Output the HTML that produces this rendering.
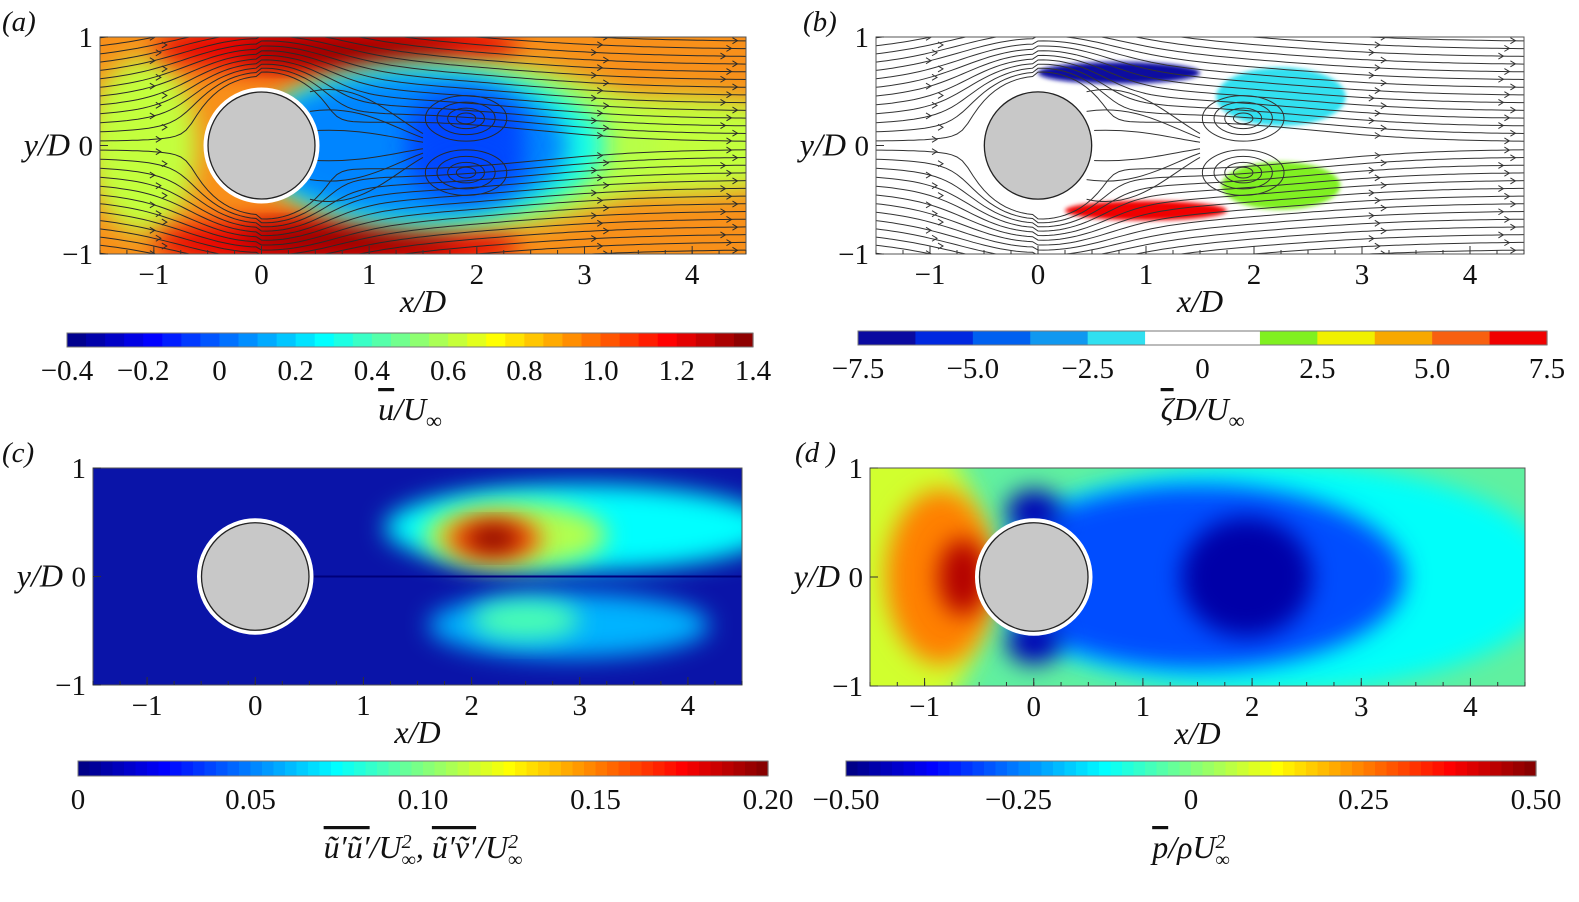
<!DOCTYPE html>
<html><head><meta charset="utf-8"><style>
html,body{margin:0;padding:0;background:#fff;}
svg text{font-family:"Liberation Serif","DejaVu Serif",serif;fill:#111;}
</style></head><body>
<svg id="fig" width="1579" height="897" viewBox="0 0 1579 897" xmlns="http://www.w3.org/2000/svg" font-family="Liberation Serif, DejaVu Serif, serif">
<defs>
<filter id="b14" x="-50%" y="-50%" width="200%" height="200%"><feGaussianBlur stdDeviation="12"/></filter>
<filter id="b3" x="-50%" y="-50%" width="200%" height="200%"><feGaussianBlur stdDeviation="2"/></filter>
</defs>
</svg>
<script>
// ---- data arrays ----
const xTicks=[-1,0,1,2,3,4];
const yTicks=[1,0,-1];
const cbA=[-0.4,-0.2,0,0.2,0.4,0.6,0.8,1.0,1.2,1.4];
const cbALabels=["−0.4","−0.2","0","0.2","0.4","0.6","0.8","1.0","1.2","1.4"];
const cbB=[-7.5,-5,-2.5,0,2.5,5,7.5];
const cbBLabels=["−7.5","−5.0","−2.5","0","2.5","5.0","7.5"];
const cbC=[0,0.05,0.10,0.15,0.20];
const cbCLabels=["0","0.05","0.10","0.15","0.20"];
const cbD=[-0.5,-0.25,0,0.25,0.5];
const cbDLabels=["−0.50","−0.25","0","0.25","0.50"];
// field blobs: [cx, cy, rx, ry, value]
const blobsA=[[-1.1,0,0.5,0.8,0.62],[3.8,0,1.4,0.45,0.62],[0.7,0.9,1.7,0.25,1.22],[0.7,-0.9,1.7,0.25,1.22],[0.8,0.86,1.0,0.12,1.38],[0.8,-0.86,1.0,0.12,1.38],[1.8,0,1.9,0.76,0.6],[1.6,0,1.6,0.7,0.32],[1.4,0,1.45,0.66,0.06],[1.9,0.15,0.55,0.35,-0.05],[1.9,-0.15,0.55,0.35,-0.05]];
const blobsB=[[0.75,0.67,0.75,0.1,-7.5],[2.25,0.45,0.6,0.27,-2.5],[1.0,-0.6,0.75,0.09,6.5],[2.25,-0.37,0.55,0.22,2.0]];
const blobsC=[[3.0,0.45,1.8,0.4,0.075],[2.4,0.38,0.85,0.3,0.11],[2.2,0.35,0.45,0.2,0.16],[2.2,0.35,0.25,0.12,0.2],[2.9,-0.45,1.3,0.3,0.06],[2.5,-0.4,0.5,0.18,0.09]];
const blobsD=[[2.2,0,2.6,1.05,-0.12],[1.5,0,1.9,0.85,-0.3],[1.95,0,0.6,0.55,-0.46],[0,0.6,0.25,0.2,-0.45],[0,-0.6,0.25,0.2,-0.45],[-1.2,0,0.75,1.4,0.08],[-0.85,0,0.5,0.8,0.25],[-0.65,0,0.22,0.35,0.45]];

const NS="http://www.w3.org/2000/svg";
const svg=document.getElementById('fig');
function el(tag,attrs,parent){const e=document.createElementNS(NS,tag);for(const k in attrs)e.setAttribute(k,attrs[k]);(parent||svg).appendChild(e);return e;}
function clamp(v){return Math.max(0,Math.min(1,v));}
function jet(t){t=clamp(t);const r=clamp(1.5-Math.abs(4*t-3)),g=clamp(1.5-Math.abs(4*t-2)),b=clamp(1.5-Math.abs(4*t-1));return `rgb(${Math.round(r*255)},${Math.round(g*255)},${Math.round(b*255)})`;}
const vortColors=['#0a0aa0','#0028e0','#0060f0','#1098f0','#30e0f0','#ffffff','#ffffff','#80f020','#f0f000','#f8a800','#f86010','#f00000'];
function vortCol(v){const i=Math.max(0,Math.min(11,Math.floor((v+7.5)/15*12)));return vortColors[i];}

function panel(o){
  const sx=v=>o.x0+(v+1.5)/6*(o.x1-o.x0);
  const sy=v=>o.yc-v*(o.y1-o.y0)/2;
  const g=el('g',{});
  
  
  const cid='clip'+o.id;
  const cp=el('clipPath',{id:cid},g);
  el('rect',{x:o.x0,y:o.y0,width:o.x1-o.x0,height:o.y1-o.y0},cp);
  const pg=el('g',{'clip-path':`url(#${cid})`},g);
  const bg=el('rect',{x:o.x0,y:o.y0,width:o.x1-o.x0,height:o.y1-o.y0,fill:o.bg},pg);
  
  
  const ppx=(o.x1-o.x0)/6, ppy=(o.y1-o.y0)/2;
  o.blobs.forEach(b=>{
    const e=el('ellipse',{cx:sx(b[0]),cy:sy(b[1]),rx:b[2]*ppx,ry:b[3]*ppy,fill:o.col(b[4]),filter:o.filter||'url(#b14)'},pg);
    
    
  });
  if(o.extra)o.extra(pg,sx,sy);
  if(o.stream)streams(pg,sx,sy,o.stream);
  const R=0.52*ppx;
  const cyl=el('circle',{cx:sx(0),cy:sy(0),r:R,fill:'#c8c8c8',stroke:'#fff','stroke-width':4},g);
  
  
  el('circle',{cx:sx(0),cy:sy(0),r:R-2.5,fill:'none',stroke:'#222','stroke-width':1.3},g);
  const fr=el('rect',{x:o.x0,y:o.y0,width:o.x1-o.x0,height:o.y1-o.y0,fill:'none',stroke:'#555','stroke-width':1},g);
  
  
  for(let t=-1.5;t<=4.5;t+=0.25) el('line',{x1:sx(t),x2:sx(t),y1:o.y1,y2:o.y1-4,stroke:'#333'},g);
  xTicks.forEach(t=>{
    el('line',{x1:sx(t),x2:sx(t),y1:o.y1,y2:o.y1-8,stroke:'#333'},g);
    const tx=el('text',{x:sx(t),y:o.y1+30,'font-size':29,'text-anchor':'middle'},g);
    tx.textContent=t<0?'−'+(-t):String(t);
    
    
  });
  yTicks.forEach(t=>{
    el('line',{x1:o.x0,x2:o.x0+8,y1:sy(t),y2:sy(t),stroke:'#333'},g);
    const tx=el('text',{x:o.x0-7,y:sy(t)+10,'font-size':29,'text-anchor':'end'},g);
    tx.textContent=t<0?'−'+(-t):String(t);
    
    
  });
  const xl=el('text',{x:sx(1.5),y:o.y1+58,'font-size':32,'font-style':'italic','text-anchor':'middle'},g);
  xl.textContent='x/D';
  
  
  const yl=el('text',{x:o.x0-30,y:sy(0)+10,'font-size':32,'font-style':'italic','text-anchor':'end'},g);
  yl.textContent='y/D';
  
  
  const pl=el('text',{x:o.lx,y:o.y0-6,'font-size':29,'font-style':'italic'},g);
  pl.textContent=o.label;
  
  
}

function streams(g,sx,sy,color){
  const a=0.62;
  const psiF=(x,y)=>y*(1-a*a/(x*x+y*y));
  const solve=(x,p)=>{let lo=Math.sqrt(Math.max(0,a*a-x*x))+1e-4,hi=3;
    for(let i=0;i<40;i++){const m=(lo+hi)/2;if(psiF(x,m)<p)lo=m;else hi=m;}
    let y=lo; if(x>0) y+=0.18*Math.exp(-Math.pow((x-1.4)/1.6,2))*Math.exp(-y*1.2); return y;};
  for(let p=0.035;p<1.2;p+=0.07){
    [1,-1].forEach(s=>{
      let d='';
      for(let x=-1.6;x<=4.6;x+=0.05){
        const y=solve(x,p);
        d+=(d?'L':'M')+sx(x).toFixed(1)+','+sy(s*y).toFixed(1);
      }
      const pth=el('path',{d:d,fill:'none',stroke:color,'stroke-width':1},g);
      
      
      [-1.0,3.1,4.3].forEach(xa=>{
        const X=sx(xa)+(Math.round(p*100)%3)*6;
        const Y=sy(s*solve(xa,p));
        el('path',{d:`M${X-4},${Y-3}L${X+1},${Y}L${X-4},${Y+3}`,fill:'none',stroke:color,'stroke-width':1},g);
      });
    });
  }
  [0.25,-0.25].forEach(cy=>{
    [0.42,0.3,0.19,0.1].forEach(r=>{
      const e=el('ellipse',{cx:sx(1.9),cy:sy(cy),rx:r*0.9*(sx(1)-sx(0)),ry:r*0.5*(sy(0)-sy(1)),fill:'none',stroke:color,'stroke-width':1},g);
      
      
    });
  });
  [0.55,0.35,0.15].forEach(yy=>{[1,-1].forEach(s=>{
    el('path',{d:`M${sx(0.45)},${sy(s*yy*0.9)} C${sx(0.9)},${sy(s*yy*1.1)} ${sx(1.2)},${sy(s*yy*0.5)} ${sx(1.5)},${sy(s*yy*0.2)}`,fill:'none',stroke:color,'stroke-width':1},g);
  });});
}

function colorbar(o){
  const g=el('g',{});
  
  
  const vals=o.ticks, vmin=vals[0], vmax=vals[vals.length-1];
  const n=o.n;
  const w=(o.x1-o.x0)/n;
  for(let i=0;i<n;i++){
    const v=vmin+(i+0.5)/n*(vmax-vmin);
    el('rect',{x:o.x0+i*w,y:o.y,width:w+0.6,height:o.h,fill:o.col(v)},g);
  }
  el('rect',{x:o.x0,y:o.y,width:o.x1-o.x0,height:o.h,fill:'none',stroke:'#777','stroke-width':1},g);
  vals.forEach((v,i)=>{
    const X=o.x0+(v-vmin)/(vmax-vmin)*(o.x1-o.x0);
    const t=el('text',{x:X,y:o.y+o.h+33,'font-size':29,'text-anchor':'middle'},g);
    t.textContent=o.labels[i];
    
    
  });
  const t=el('text',{x:(o.x0+o.x1)/2,y:o.ty,'font-size':32,'font-style':'italic','text-anchor':'middle'},g);
  t.innerHTML=o.title;
  
  
}

const colA=v=>jet((v+0.4)/1.8), colC=v=>jet(v/0.2), colD=v=>jet((v+0.5)/1.0);

panel({id:'a',name:'panel-a-mean-velocity',x0:100,x1:746,y0:37,y1:254,yc:145.5,bg:'#f8901a',blobs:blobsA,col:colA,stream:'#2a2a2a',label:'(a)',lx:2});
panel({id:'b',name:'panel-b-vorticity',x0:876,x1:1524,y0:37,y1:254,yc:145.5,bg:'#ffffff',blobs:blobsB,col:vortCol,filter:'url(#b3)',stream:'#333',label:'(b)',lx:803});
panel({id:'c',name:'panel-c-reynolds-stress',x0:93,x1:742,y0:468,y1:685,yc:576.5,bg:'#0a14a8',blobs:blobsC,col:colC,label:'(c)',lx:2,
  extra:(g,sx,sy)=>{el('line',{x1:sx(0),x2:sx(4.5),y1:sy(0),y2:sy(0),stroke:'#00007a','stroke-width':2},g);}});
panel({id:'d',name:'panel-d-pressure',x0:870,x1:1525,y0:468,y1:686,yc:577,bg:'#60f0a0',blobs:blobsD,col:colD,label:'(d )',lx:795});

colorbar({name:'colorbar-a',x0:67,x1:753,y:333,h:14,n:36,ticks:cbA,labels:cbALabels,col:colA,ty:420,title:'<tspan text-decoration="overline">u</tspan>/<tspan>U</tspan><tspan font-size="22" dy="8">∞</tspan>'});
colorbar({name:'colorbar-b',x0:858,x1:1547,y:331,h:14,n:12,ticks:cbB,labels:cbBLabels,col:vortCol,ty:420,title:'<tspan text-decoration="overline">ζ</tspan>D/U<tspan font-size="22" dy="8">∞</tspan>'});
colorbar({name:'colorbar-c',x0:78,x1:768,y:761,h:15,n:60,ticks:cbC,labels:cbCLabels,col:colC,ty:858,title:'<tspan text-decoration="overline">ũ′ũ′</tspan>/U<tspan font-size="20" dy="-10">2</tspan><tspan font-size="20" dx="-10" dy="18">∞</tspan><tspan dy="-8">, </tspan><tspan text-decoration="overline">ũ′ṽ′</tspan>/U<tspan font-size="20" dy="-10">2</tspan><tspan font-size="20" dx="-10" dy="18">∞</tspan>'});
colorbar({name:'colorbar-d',x0:846,x1:1536,y:761,h:15,n:60,ticks:cbD,labels:cbDLabels,col:colD,ty:858,title:'<tspan text-decoration="overline">p</tspan>/ρU<tspan font-size="20" dy="-10">2</tspan><tspan font-size="20" dx="-10" dy="18">∞</tspan>'});
</script>
</body></html>
